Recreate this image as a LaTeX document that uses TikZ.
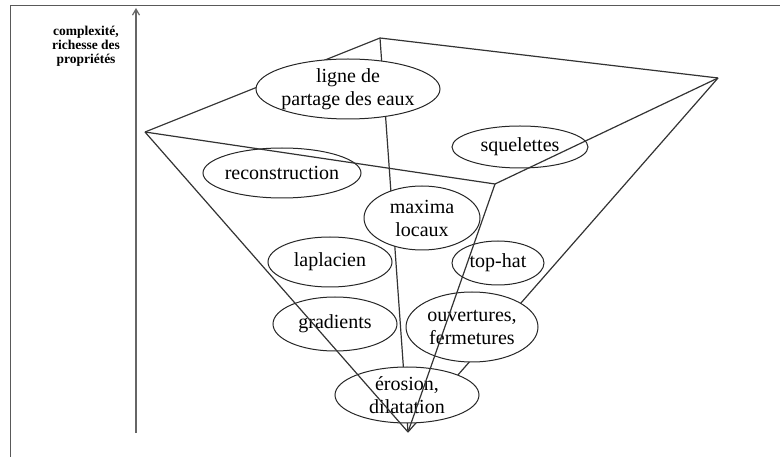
\documentclass[tikz,border=0pt]{standalone}
\usepackage{fontspec}
\setmainfont{Liberation Serif}
\usetikzlibrary{shapes.geometric,arrows.meta}
\begin{document}
\begin{tikzpicture}[x=1pt,y=-1pt,
  edge/.style={draw=black!80, line width=1.2pt},
  frameline/.style={draw=black!65, line width=1pt},
  bubble/.style={ellipse, draw=black!85, line width=1pt, fill=white,
    inner xsep=-6pt, inner ysep=-4pt, align=center,
    font=\fontsize{20}{23}\selectfont, text=black},
  axislabel/.style={align=center, font=\bfseries\fontsize{13.5}{14}\selectfont, text=black}
]
\useasboundingbox (0,0) rectangle (780,457);
% frame
\coordinate (f1) at (10,457);
\coordinate (f2) at (10,6);
\coordinate (f3) at (780,6);
\draw[frameline] (f1) -- (f2) -- (f3);
% axis
\coordinate (ax0) at (136,433);
\coordinate (ax1) at (136,8);
\draw[draw=black!60, line width=1.2pt, -{Straight Barb[length=6pt,width=7pt]}] (ax0) -- (ax1);
\node[axislabel] (lab) at (86,46) {complexité,\\richesse des\\propriétés};
% pyramid vertices
\coordinate (T) at (380,38);
\coordinate (R) at (718,78);
\coordinate (F) at (495,184);
\coordinate (L) at (145,132);
\coordinate (A) at (408,432);
% hidden edges
\draw[edge] (A) -- (T);
\draw[edge] (A) -- (R);
\draw[edge] (L) -- (T) -- (R);
% ellipses
\node[bubble, minimum width=184pt, minimum height=60pt] (lig) at (348,89) {ligne de\\partage des eaux};
\node[bubble, minimum width=136pt, minimum height=42pt] (squ) at (520,147) {squelettes};
\node[bubble, minimum width=158pt, minimum height=50pt] (rec) at (282,173) {reconstruction};
\node[bubble, minimum width=116pt, minimum height=64pt] (max) at (422,218) {maxima\\locaux};
\node[bubble, minimum width=124pt, minimum height=50pt] (lap) at (330,262) {laplacien};
\node[bubble, minimum width=92pt, minimum height=44pt] (top) at (498,263) {top-hat};
\node[bubble, minimum width=124pt, minimum height=54pt] (gra) at (335,324) {gradients};
\node[bubble, minimum width=132pt, minimum height=70pt] (ouv) at (472,327) {ouvertures,\\fermetures};
\node[bubble, minimum width=144pt, minimum height=56pt] (ero) at (407,395) {érosion,\\dilatation};
% front edges
\draw[edge] (A) -- (L);
\draw[edge] (A) -- (F);
\draw[edge] (L) -- (F) -- (R);
\end{tikzpicture}
\end{document}
